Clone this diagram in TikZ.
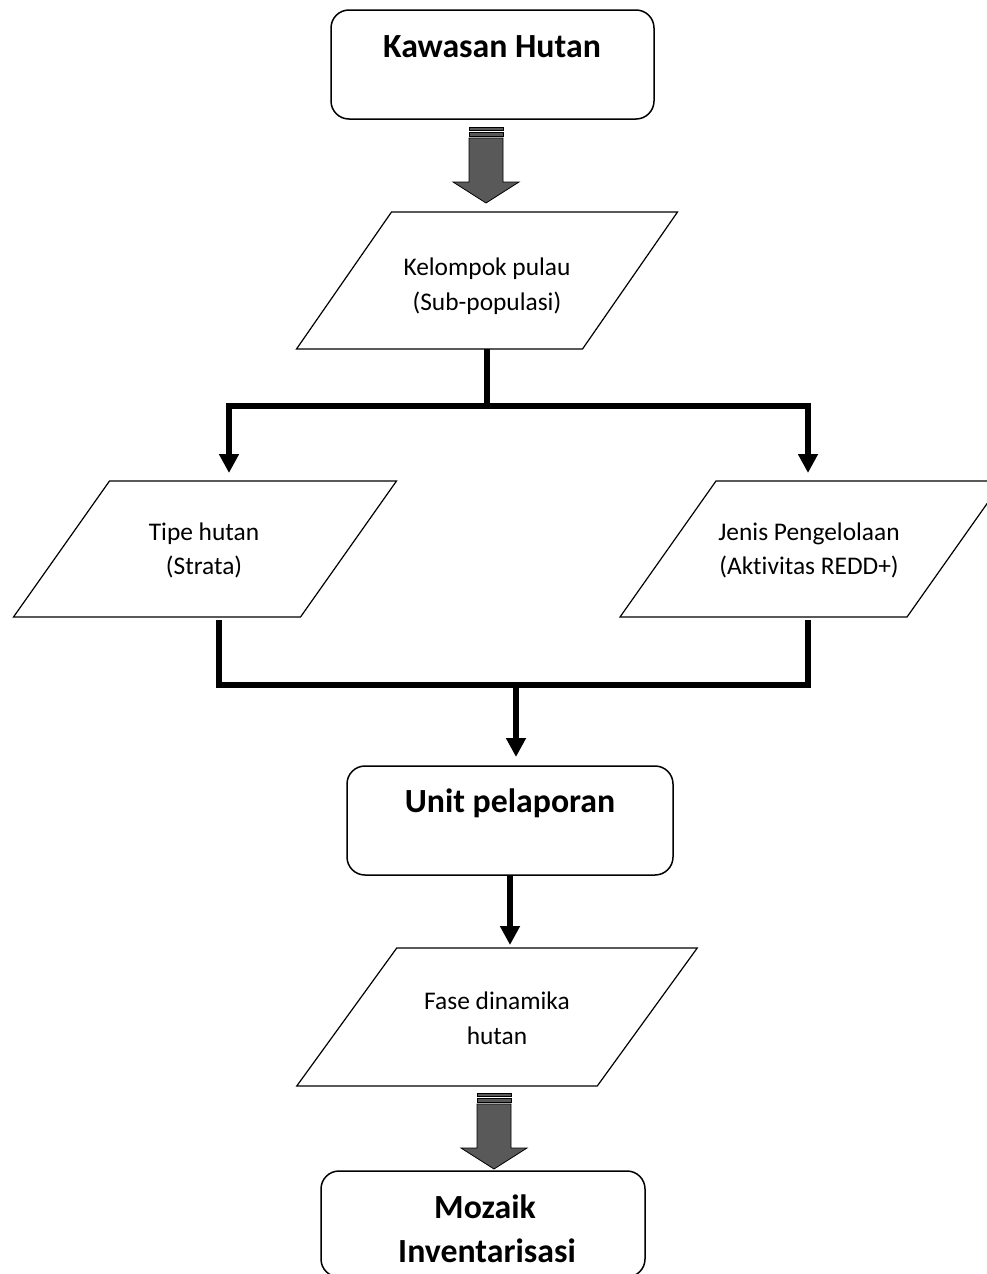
\documentclass[tikz,border=0pt]{standalone}
\usepackage{fontspec}
\setmainfont{Carlito}[Ligatures={NoCommon,NoRare,NoContextual}]
\usetikzlibrary{arrows.meta,calc}
\definecolor{arrowgray}{RGB}{89,89,89}
\begin{document}
\begin{tikzpicture}[x=0.5pt,y=-0.5pt,
  rbox/.style={draw, line width=0.75pt, rounded corners=9pt, inner sep=0pt, outer sep=0pt},
  pbox/.style={inner sep=0pt, outer sep=0pt},
  pline/.style={draw, line width=0.6pt, line join=miter},
  conn/.style={line width=2.8pt, line join=miter},
  arr/.style={conn, -{Triangle[width=9.5pt,length=9.5pt]}},
  reg/.style={font=\fontsize{12.7}{15}\selectfont, anchor=base, inner sep=0pt},
  bld/.style={font=\fontsize{16.9}{20}\selectfont\bfseries, anchor=base, inner sep=0pt},
  bpart/.style={fill=arrowgray, draw=black, line width=0.4pt, line join=miter},
  blockarrow/.pic={
    \filldraw[bpart] (-17,0) rectangle (17,3.5);
    \filldraw[bpart] (-17,5) rectangle (17,9.5);
    \filldraw[bpart] (-17,11) -- (17,11) -- (17,55) -- (33,55) -- (0,76) -- (-33,55) -- (-17,55) -- cycle;
  }
]
\useasboundingbox (0,0) rectangle (986,1274);

% Kawasan Hutan
\node[rbox, minimum width=161.5pt, minimum height=54.5pt] (kaw) at (492.5,64.5) {};
\node[bld] (kawt) at (492,57) {Kawasan Hutan};

\pic (ba1) at (486,127) {blockarrow};

% Kelompok pulau
\node[pbox, minimum width=143pt, minimum height=68.5pt] (kel) at (487,280.5) {};
\draw[pline] ([xshift=23.75pt]kel.north west) -- ([xshift=23.75pt]kel.north east)
  -- ([xshift=-23.75pt]kel.south east) -- ([xshift=-23.75pt]kel.south west) -- cycle;
\node[reg] (kelt1) at (487,275) {Kelompok pulau};
\node[reg] (kelt2) at (487,310) {(Sub-populasi)};

% Tipe hutan
\node[pbox, minimum width=143.5pt, minimum height=68pt] (tipe) at (205,549) {};
\draw[pline] ([xshift=24pt]tipe.north west) -- ([xshift=24pt]tipe.north east)
  -- ([xshift=-24pt]tipe.south east) -- ([xshift=-24pt]tipe.south west) -- cycle;
\node[reg] (tipet1) at (204,540) {Tipe hutan};
\node[reg] (tipet2) at (204,574) {(Strata)};

% Jenis Pengelolaan
\node[pbox, minimum width=143.5pt, minimum height=68pt] (jenis) at (811.5,549) {};
\draw[pline] ([xshift=24pt]jenis.north west) -- ([xshift=24pt]jenis.north east)
  -- ([xshift=-24pt]jenis.south east) -- ([xshift=-24pt]jenis.south west) -- cycle;
\node[reg] (jenist1) at (809,540) {Jenis Pengelolaan};
\node[reg] (jenist2) at (809,574) {(Aktivitas REDD+)};

% Unit pelaporan
\node[rbox, minimum width=163pt, minimum height=54.5pt] (unit) at (510,820.5) {};
\node[bld] (unitt) at (510,812) {Unit pelaporan};

% Fase dinamika hutan
\node[pbox, minimum width=150.25pt, minimum height=69pt] (fase) at (497,1017) {};
\draw[pline] ([xshift=25pt]fase.north west) -- ([xshift=25pt]fase.north east)
  -- ([xshift=-25pt]fase.south east) -- ([xshift=-25pt]fase.south west) -- cycle;
\node[reg] (faset1) at (497,1009) {Fase dinamika};
\node[reg] (faset2) at (497,1044) {hutan};

\pic (ba2) at (494,1093) {blockarrow};

% Mozaik Inventarisasi
\node[rbox, minimum width=162pt, minimum height=53pt] (moz) at (483,1224) {};
\node[bld] (mozt1) at (485,1218) {Mozaik};
\node[bld] (mozt2) at (487,1262) {Inventarisasi};

% connectors
\coordinate (s1) at (486,406);
\coordinate (s2) at (516,685);
\draw[conn] (kel.south) -- (kel.south |- s1);
\draw[arr, shorten >=4pt] (s1) -| ([xshift=12pt]tipe.north);
\draw[arr, shorten >=4pt] (s1) -| ([xshift=-1.75pt]jenis.north);
\draw[conn, shorten <=1.5pt, shorten >=1.5pt] ([xshift=7pt]tipe.south) |- (s2) -| ([xshift=-1.75pt]jenis.south);
\draw[arr, shorten >=4.5pt] (s2) -- (s2 |- unit.north);
\draw[arr, shorten >=1.5pt] (unit.south) -- (unit.south |- fase.north);
\end{tikzpicture}
\end{document}
